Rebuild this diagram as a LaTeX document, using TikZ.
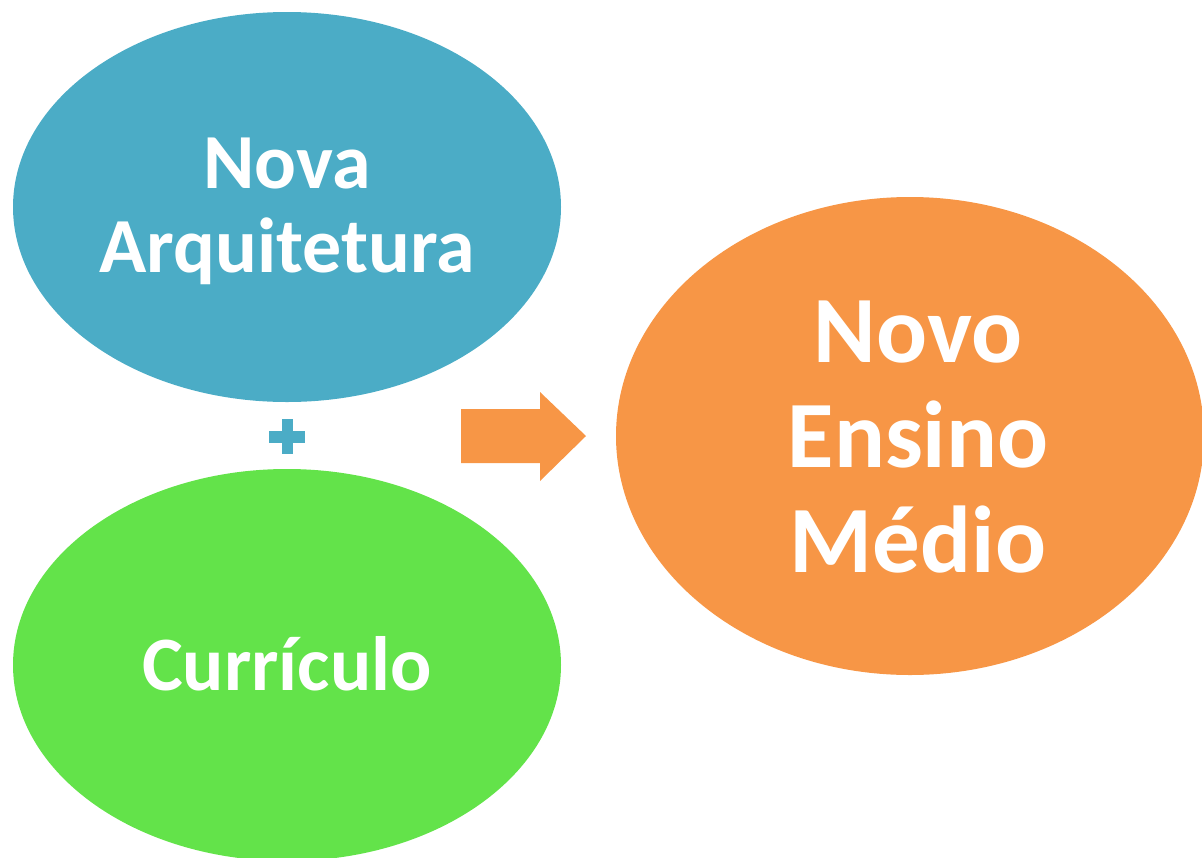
\documentclass[tikz,border=0pt]{standalone}
\usepackage{fontspec}
\setmainfont{Carlito}
\usetikzlibrary{shapes.geometric}
\definecolor{cblue}{HTML}{4BACC6}
\definecolor{cgreen}{HTML}{63E34A}
\definecolor{corange}{HTML}{F79646}
\tikzset{
  bubble/.style={ellipse, inner sep=0pt},
  bubbletext/.style={inner sep=0pt, text=white, align=center},
}
\begin{document}
\begin{tikzpicture}[x=1pt,y=-1pt]
\useasboundingbox (0,0) rectangle (1202,857);
\begin{scope}
\clip (0,0) rectangle (1202,857);
\node[bubble, fill=cblue, minimum width=548pt, minimum height=390pt] (arq) at (287,207) {};
\node[bubble, fill=cgreen, minimum width=548pt, minimum height=392pt] (cur) at (287,665) {};
\node[bubble, fill=corange, minimum width=588pt, minimum height=478pt] (nem) at (910,436) {};
\end{scope}
\node[bubbletext, font=\bfseries\fontsize{78}{84}\selectfont] (arqt) at ([yshift=-4pt]arq.center) {Nova\\Arquitetura};
\node[bubbletext, font=\bfseries\fontsize{77}{84}\selectfont] (curt) at ([yshift=1pt]cur.center) {Currículo};
\node[bubbletext, font=\bfseries\fontsize{95}{105}\selectfont] (nemt) at ([xshift=8pt,yshift=-1pt]nem.center) {Novo\\Ensino\\Médio};
% plus sign
\fill[cblue] (269,431) rectangle (305,443);
\fill[cblue] (282,419) rectangle (293,454);
% block arrow
\fill[corange] (461,409) -- (540,409) -- (540,392) -- (586,436) -- (540,481) -- (540,463) -- (461,463) -- cycle;
\end{tikzpicture}
\end{document}
